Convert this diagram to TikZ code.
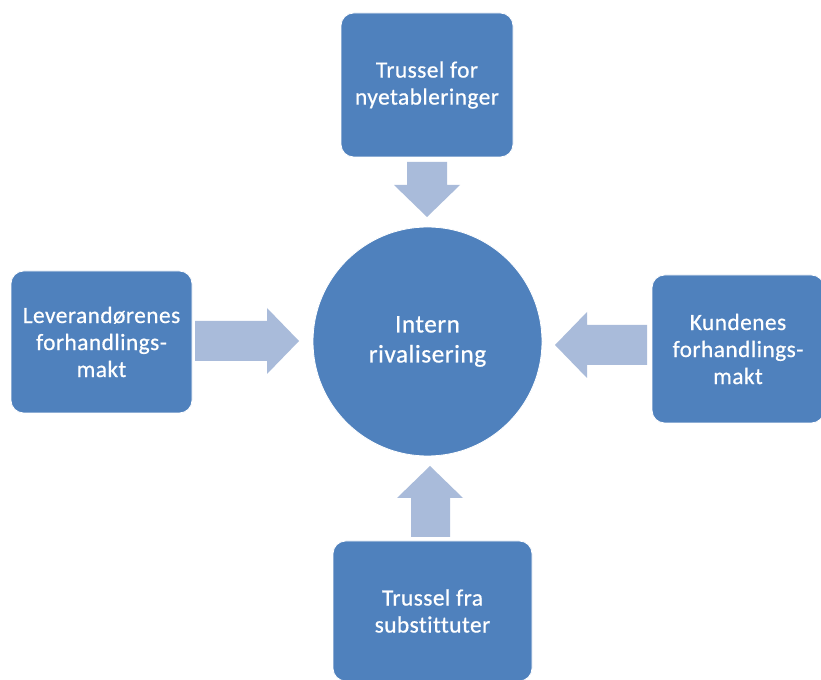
\documentclass[tikz,border=0pt]{standalone}
\usepackage{fontspec}
\setmainfont{Carlito}[Ligatures=NoCommon, LetterSpace=2, FakeBold=0.6]
\definecolor{boxblue}{HTML}{4F81BD}
\definecolor{arrowblue}{HTML}{A9BBDA}
\begin{document}
\begin{tikzpicture}[x=0.75pt,y=-0.75pt,
  box/.style={rectangle, rounded corners=9.5pt, fill=boxblue, draw=white, line width=0.6pt,
    text=white, align=center, inner sep=0pt, font=\fontsize{17.5}{20.25}\selectfont},
  hub/.style={circle, fill=boxblue, draw=white, line width=0.6pt, text=white, align=center,
    inner sep=0pt, minimum size=171.75pt, font=\fontsize{19}{22.5}\selectfont},
  blockarrow/.style={fill=arrowblue}]
\useasboundingbox (0,0) rectangle (821,680);
\clip (0,0) rectangle (821,680);
\fill[white] (0,0) rectangle (821,680);

\node[hub] (hub) at (427.5,341.5) {Intern\\rivalisering};
\node[box, minimum width=129pt, minimum height=108pt] (top) at (427,85) {Trussel for\\nyetableringer};
\node[box, minimum width=135.75pt, minimum height=106.5pt] (left) at (101.5,342) {Leverandørenes\\forhandlings-\\makt};
\node[box, minimum width=129pt, minimum height=111pt] (right) at (738,349) {Kundenes\\forhandlings-\\makt};
\node[box, minimum width=149.25pt, minimum height=105pt] (bottom) at (432.5,611) {Trussel fra\\substittuter};

% top arrow (down)
\fill[blockarrow] (407,162) -- (447,162) -- (447,185) -- (460,185) -- (427,217) -- (394,185) -- (407,185) -- cycle;
% left arrow (right)
\fill[blockarrow] (195,321) -- (267,321) -- (267,308) -- (299,341) -- (267,374) -- (267,361) -- (195,361) -- cycle;
% right arrow (left)
\fill[blockarrow] (647,325) -- (587,325) -- (587,312) -- (555,345) -- (587,378) -- (587,365) -- (647,365) -- cycle;
% bottom arrow (up)
\fill[blockarrow] (411,537) -- (411,498) -- (397,498) -- (430,466) -- (463,498) -- (450,498) -- (450,537) -- cycle;
\end{tikzpicture}
\end{document}
